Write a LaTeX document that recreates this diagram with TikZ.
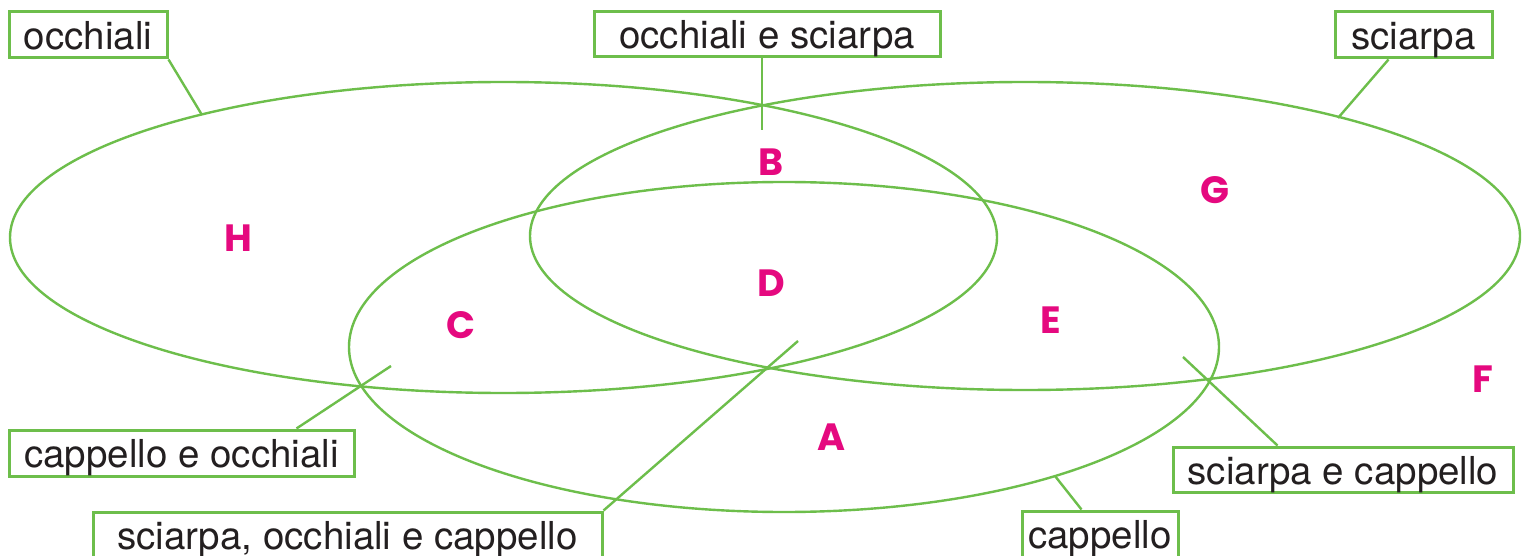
\documentclass[tikz,border=0pt]{standalone}
\usepackage{fontspec}
\setmainfont{TeX Gyre Heros}
\newfontfamily\letterfont{Poppins}
\usetikzlibrary{calc}
\definecolor{vgreen}{HTML}{6DBE4B}
\definecolor{tgray}{HTML}{231F20}
\definecolor{lmag}{HTML}{E5097F}
\tikzset{
  setline/.style={draw=vgreen, line width=2.4pt},
  labelbox/.style={draw=vgreen, line width=3pt, fill=white, inner sep=0pt,
    text=tgray, font=\fontsize{38.5}{40}\selectfont, text height=32pt, text depth=3pt},
  conn/.style={draw=vgreen, line width=2.4pt},
  region/.style={text=lmag, font=\letterfont\bfseries\fontsize{38}{40}\selectfont, inner sep=0pt}
}
\begin{document}
\begin{tikzpicture}[x=1pt,y=-1pt]
\path[use as bounding box, clip] (0,0) rectangle (1529,556);
\fill[white] (0,0) rectangle (1529,556);
% sets
\draw[setline] (503.5,237.5) ellipse [x radius=493.5pt, y radius=155.5pt];
\draw[setline] (1025,236) ellipse [x radius=495pt, y radius=154pt];
\draw[setline] (784,347) ellipse [x radius=435pt, y radius=165pt];
% connector free ends
\coordinate (e1) at (202,115);
\coordinate (e2) at (762,130);
\coordinate (e3) at (1338,118);
\coordinate (e4) at (391,366);
\coordinate (e5) at (798,341);
\coordinate (e6) at (1183,357);
\coordinate (e7) at (1055,476);
% label boxes
\node[labelbox, minimum width=158pt, minimum height=46pt] (occ) at (88,35) {occhiali};
\node[labelbox, minimum width=346pt, minimum height=45pt] (occsc) at (767,34.5) {occhiali e sciarpa};
\node[labelbox, minimum width=157pt, minimum height=46pt] (sc) at (1413.5,35) {sciarpa};
\node[labelbox, minimum width=345pt, minimum height=46pt] (capocc) at (181.5,453) {cappello e occhiali};
\node[labelbox, minimum width=509pt, minimum height=46pt] (all) at (347.5,535) {sciarpa, occhiali e cappello};
\node[labelbox, minimum width=340pt, minimum height=45pt] (sccap) at (1343,469.5) {sciarpa e cappello};
\node[labelbox, minimum width=156pt, minimum height=46pt] (cap) at (1100,534) {cappello};
% connectors
\draw[conn] (occ.south east) -- (e1);
\draw[conn] (e2 |- occsc.south) -- (e2);
\draw[conn] ([xshift=55pt]sc.south west) -- (e3);
\draw[conn] ([xshift=289pt]capocc.north west) -- (e4);
\draw[conn] (all.north east) -- (e5);
\draw[conn] ([xshift=106pt]sccap.north west) -- (e6);
\draw[conn] ([xshift=61pt]cap.north west) -- (e7);
% region letters
\node[region] (rB) at (771,162) {B};
\node[region] (rH) at (238,238) {H};
\node[region] (rG) at (1215,190) {G};
\node[region] (rD) at (771,283) {D};
\node[region] (rC) at (461,325) {C};
\node[region] (rE) at (1051,320) {E};
\node[region] (rF) at (1483,379) {F};
\node[region] (rA) at (831,437) {A};
\end{tikzpicture}
\end{document}
